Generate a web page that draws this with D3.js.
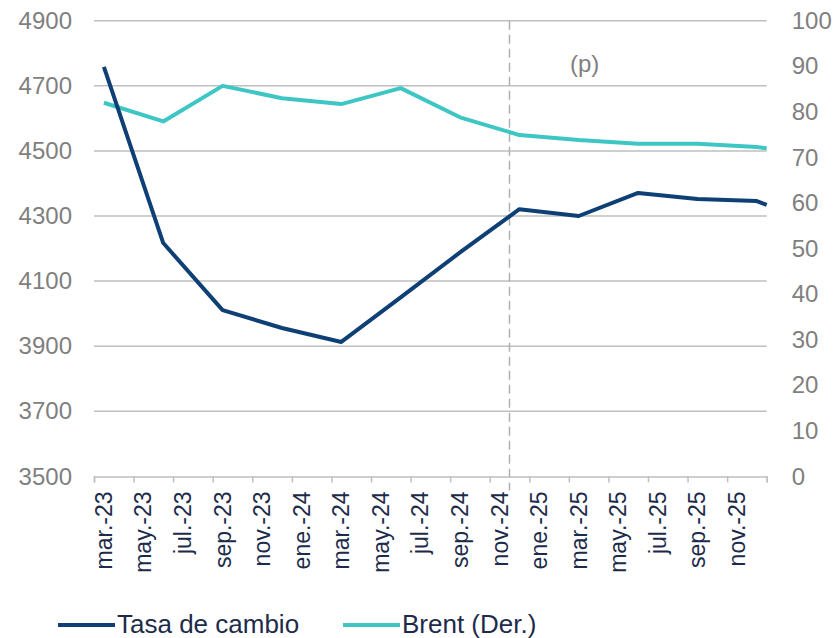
<!DOCTYPE html>
<html>
<head>
<meta charset="utf-8">
<script src="https://cdn.jsdelivr.net/npm/d3@7"></script>
<style>
  html, body { margin: 0; padding: 0; background: #ffffff; }
  svg { display: block; font-family: "Liberation Sans", Arial, sans-serif; }
</style>
</head>
<body>
<svg id="chart" width="838" height="638"></svg>
<script>
// Meses del eje (categorías mensuales); la etiqueta se muestra cada dos meses
const meses = [
  "mar.-23","abr.-23","may.-23","jun.-23","jul.-23","ago.-23","sep.-23","oct.-23","nov.-23","dic.-23",
  "ene.-24","feb.-24","mar.-24","abr.-24","may.-24","jun.-24","jul.-24","ago.-24","sep.-24","oct.-24","nov.-24","dic.-24",
  "ene.-25","feb.-25","mar.-25","abr.-25","may.-25","jun.-25","jul.-25","ago.-25","sep.-25","oct.-25","nov.-25","dic.-25"
];
// Observaciones trimestrales (el último dato cierra el periodo)
const periodos = ["mar.-23","jun.-23","sep.-23","dic.-23","mar.-24","jun.-24","sep.-24","dic.-24",
                  "mar.-25","jun.-25","sep.-25","dic.-25","ene.-26"];
const tasaCambio = [4758, 4217, 4011, 3956, 3913, 4050, 4188, 4321, 4300, 4371, 4352, 4346, 4334];
const brent      = [82.0, 77.9, 85.7, 83.0, 81.7, 85.2, 78.8, 74.9, 73.8, 73.0, 73.0, 72.3, 72.0];
// Ejes verticales
const ticksIzq = [3500, 3700, 3900, 4100, 4300, 4500, 4700, 4900];
const ticksDer = [0, 10, 20, 30, 40, 50, 60, 70, 80, 90, 100];
// Inicio del pronóstico
const inicioPronostico = "dic.-24";
const etiquetaPronostico = "(p)";

const colorTasa = "#0e3f75";
const colorBrent = "#3ec6c4";
const grisTexto = "#7f7f7f";
const azulTexto = "#1d2b4a";

const svg = d3.select("#chart");
const L = 94, R = 766.7, T = 20.7, B = 476.4;

// Índice de mes a partir de su etiqueta (admite meses posteriores al eje)
const nombres = ["ene","feb","mar","abr","may","jun","jul","ago","sep","oct","nov","dic"];
function indiceMes(etq) {
  const [m, a] = etq.split(".-");
  return (+a - 23) * 12 + nombres.indexOf(m) - 2;
}

const x = d3.scaleLinear().domain([0, meses.length]).range([L, R]).clamp(true);
const yIzq = d3.scaleLinear().domain([3500, 4900]).range([B, T]);
const yDer = d3.scaleLinear().domain([0, 100]).range([B, T]);

// Líneas de cuadrícula horizontales
svg.append("g")
  .selectAll("line")
  .data(ticksIzq.slice(1))
  .join("line")
  .attr("x1", L).attr("x2", R)
  .attr("y1", d => yIzq(d)).attr("y2", d => yIzq(d))
  .attr("stroke", "#bfbfbf").attr("stroke-width", 1.5);

// Eje izquierdo
const ejeIzq = svg.append("g")
  .attr("transform", `translate(${L},0)`)
  .call(d3.axisLeft(yIzq).tickValues(ticksIzq).tickSize(0).tickPadding(22).tickFormat(d3.format("d")));
ejeIzq.select(".domain").remove();
ejeIzq.selectAll("text").attr("fill", grisTexto).style("font-size", "24px")
  .style("font-family", "'Liberation Sans', Arial, sans-serif");

// Eje derecho
const ejeDer = svg.append("g")
  .attr("transform", `translate(${R},0)`)
  .call(d3.axisRight(yDer).tickValues(ticksDer).tickSize(0).tickPadding(25).tickFormat(d3.format("d")));
ejeDer.select(".domain").remove();
ejeDer.selectAll("text").attr("fill", grisTexto).style("font-size", "24px")
  .style("font-family", "'Liberation Sans', Arial, sans-serif");

// Línea vertical que separa el pronóstico
const xP = x(indiceMes(inicioPronostico));
svg.append("line")
  .attr("x1", xP).attr("x2", xP)
  .attr("y1", T).attr("y2", B + 14)
  .attr("stroke", "#b0b0b0").attr("stroke-width", 1.5)
  .attr("stroke-dasharray", "9,5");

svg.append("text")
  .attr("x", x(indiceMes("abr.-25")) - 4).attr("y", 72)
  .attr("text-anchor", "middle")
  .attr("fill", grisTexto).style("font-size", "24px")
  .text(etiquetaPronostico);

// Eje inferior: marcas cada dos meses
const ejeX = svg.append("g")
  .attr("transform", `translate(0,${B})`)
  .call(d3.axisBottom(x).tickValues(d3.range(0, meses.length + 1, 2)).tickSize(6).tickSizeOuter(6).tickFormat(""));
ejeX.select(".domain").attr("stroke", "#bfbfbf").attr("stroke-width", 1.5);
ejeX.selectAll(".tick line").attr("stroke", "#bfbfbf").attr("stroke-width", 1.5);

// Etiquetas de meses rotadas
const etiquetas = meses.filter((m, i) => i % 2 === 0);
svg.append("g")
  .selectAll("text")
  .data(etiquetas)
  .join("text")
  .attr("transform", d => `translate(${x(indiceMes(d) + 0.5) + 8},${B + 15}) rotate(-90)`)
  .attr("text-anchor", "end")
  .attr("fill", azulTexto)
  .style("font-size", "23px")
  .text(d => d);

// Series
const puntos = periodos.map((p, i) => ({ m: indiceMes(p) + 0.5, tasa: tasaCambio[i], brent: brent[i] }));

svg.append("path")
  .datum(puntos)
  .attr("fill", "none")
  .attr("stroke", colorBrent).attr("stroke-width", 4)
  .attr("stroke-linejoin", "round")
  .attr("d", d3.line().x(d => x(d.m)).y(d => yDer(d.brent)));

svg.append("path")
  .datum(puntos)
  .attr("fill", "none")
  .attr("stroke", colorTasa).attr("stroke-width", 4)
  .attr("stroke-linejoin", "round")
  .attr("d", d3.line().x(d => x(d.m)).y(d => yIzq(d.tasa)));

// Leyenda
const leyenda = [
  { nombre: "Tasa de cambio", color: colorTasa, x: 58 },
  { nombre: "Brent (Der.)", color: colorBrent, x: 343 }
];
const gL = svg.append("g");
leyenda.forEach(s => {
  gL.append("line")
    .attr("x1", s.x).attr("x2", s.x + 57)
    .attr("y1", 625).attr("y2", 625)
    .attr("stroke", s.color).attr("stroke-width", 4);
  gL.append("text")
    .attr("x", s.x + 59).attr("y", 633)
    .attr("fill", azulTexto)
    .style("font-size", "26px")
    .text(s.nombre);
});
</script>
</body>
</html>
